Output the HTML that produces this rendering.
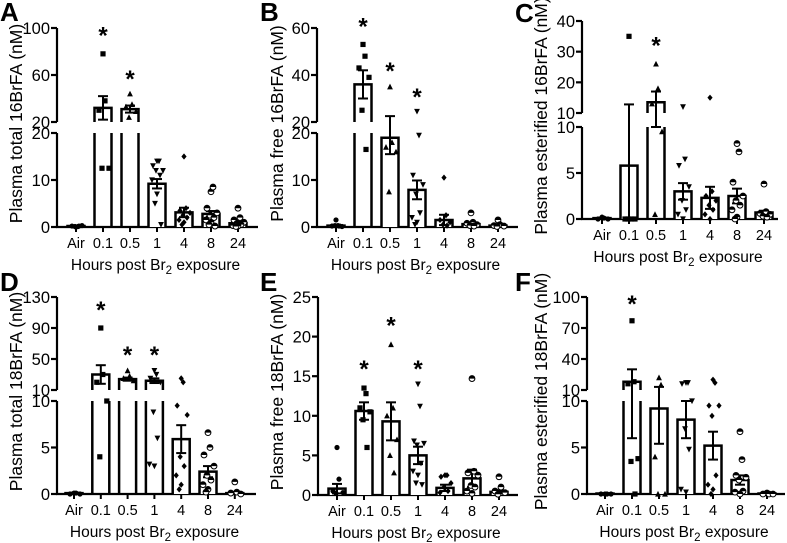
<!DOCTYPE html>
<html><head><meta charset="utf-8">
<style>
html,body{margin:0;padding:0;background:#fff;}
svg{display:block;font-family:"Liberation Sans",Arial,sans-serif;}
</style></head>
<body>
<svg id="fig" width="787" height="543" viewBox="0 0 787 543" xmlns="http://www.w3.org/2000/svg"></svg>
<script>
const categories = ["Air","0.1","0.5","1","4","8","24"];
const markers = ["circle","square","tri","dtri","diamond","half","half"];

// Panel A data
const meansA = [0.2, 32, 31, 9.2, 3.1, 2.8, 0.8];
const semA = [0.1, 10, 3, 1, 1, 0.6, 0.3];
const ptsA = [[0,0.1,0.2,0.3,0.1,0.2],[78,38,30,12.5,12.5],[44,35,33,29,24],[14,14,13,12,12,11,10,7,5,0.5],[15,4,3.5,3,2.5,2,1.5,1,0.5],[7.5,8.5,4,3,2.5,2,1.5,1,0.5,0.2],[4,2,1.5,1,0.8,0.5,0.3,0.2,0.1]];
const starsA = [null, 96, 59, null, null, null, null];
const lowTicksA = [0,10,20]; const upTicksA = [20,60,100];
// Panel B data
const meansB = [0.3, 36, 19, 7.9, 1.5, 0.6, 0.3];
const semB = [0.2, 6, 3.5, 2, 1.1, 0.3, 0.2];
const ptsB = [[1.5,0.3,0.2,0.1,0.3,0.2],[53,48,43,39,25,16.5],[35,18,17,16,7.5],[24.5,19.5,11,9,7,3,2,1,0.5],[10.5,2.5,1.5,1,0.5,0.3],[3,1,0.8,0.5,0.3,0.2],[1.5,0.5,0.3,0.2,0.1]];
const starsB = [null, 62, 43, 32, null, null, null];
const lowTicksB = [0,10,20]; const upTicksB = [20,40,60];
// Panel C data
const meansC = [0.1, 5.8, 13.5, 3, 2.3, 2.5, 0.7];
const semC = [0.05, 7, 3.5, 0.9, 1.2, 0.8, 0.2];
const ptsC = [[0.2,0.1,0,0],[35,0,0,0,0],[26,18,13,9.5,0.5],[12,6.5,5.8,3.5,2,1,0.5,0],[15,3,2.5,2,1.5,1,0.5,0],[8.2,7.3,4,2.5,2,1.5,1,0.2,0],[3.8,0.8,0.6,0.5,0.3,0.2]];
const starsC = [null, null, 33, null, null, null, null];
const lowTicksC = [0,5,10]; const upTicksC = [10,20,30,40];
// Panel D data
const meansD = [0.1, 30, 24, 22, 5.9, 2.4, 0.1];
const semD = [0.05, 12, 2, 3, 1.5, 0.6, 0.05];
const ptsD = [[0.1,0.1,0,0],[90,30,20,10,4],[35,28,25,22],[35,30,25,20,8.8,6,3.2,3],[25,20,9.5,8.5,4,3,2,1,0.5],[6.6,5,4.2,3,2,1.5,1,0.5,0.2],[1.3,0.2,0.1,0]];
const starsD = [null, 117, 59, 59, null, null, null];
const lowTicksD = [0,5,10]; const upTicksD = [10,50,90,130];
// Panel E data
const meansE = [0.8, 10.6, 9.3, 5, 0.9, 2.1, 0.4];
const semE = [0.6, 1.1, 2.4, 1.1, 0.4, 1.1, 0.2];
const ptsE = [[6,2,0.5,0.3,0.2],[13.5,12.8,11,10.5,9.5,6],[19,11,10,7,5,2.8],[14,11.2,6.8,6.5,6.3,4,3,2.5,1.5,1.3],[2.5,2.5,2.3,1.5,1,0.5,0.3],[14.7,3,2.8,2.5,1.2,1,0.5,0.2],[2.3,1,0.5,0.3,0.1]];
const starsE = [null, 16.3, 21.8, 16.3, null, null, null];
const lowTicksE = [0,5,10,15,20,25]; const upTicksE = [];
// Panel F data
const meansF = [0.05, 18, 9.2, 8, 5.2, 1.5, 0.05];
const semF = [0, 12, 3.8, 2, 1.5, 0.5, 0];
const ptsF = [[0,0,0,0],[77,18,16,3.8,3.5,0],[22,15,4,0,0],[17,17,16,10,7,4.8,0.5,0.2],[20,17,9.5,9.5,8.4,2,1,0.5,0],[6.7,3.7,2,1.8,1.5,0.3,0.2,0],[0.1,0,0,0]];
const starsF = [null, 96, null, null, null, null, null];
const lowTicksF = [0,5,10]; const upTicksF = [10,40,70,100];

const NS = "http://www.w3.org/2000/svg";
const svg = document.getElementById("fig");
function mk(tag, attrs, parent, text){
  const e = document.createElementNS(NS, tag);
  for (const k in attrs) e.setAttribute(k, attrs[k]);
  if (text !== undefined) e.textContent = text;
  (parent||svg).appendChild(e);
  return e;
}

const panels = [
 {id:"a",letter:"A",lx:0,ly:21,title:"Plasma total 16BrFA (nM)",tx:16,ax:57,c0:76,step:27,bw:17,base:227,lowMax:20,lowTop:133,upMin:20,upMax:100,upBot:122,upTop:28,means:meansA,sem:semA,pts:ptsA,stars:starsA,lt:lowTicksA,ut:upTicksA,xend:258},
 {id:"b",letter:"B",lx:260,ly:21,title:"Plasma free 16BrFA (nM)",tx:277,ax:317,c0:336,step:27,bw:17,base:227,lowMax:20,lowTop:133,upMin:20,upMax:60,upBot:122,upTop:28,means:meansB,sem:semB,pts:ptsB,stars:starsB,lt:lowTicksB,ut:upTicksB,xend:518},
 {id:"c",letter:"C",lx:515,ly:22,title:"Plasma esterified 16BrFA (nM)",tx:541,ax:582,c0:602,step:27,bw:17,base:219,lowMax:10,lowTop:127,upMin:10,upMax:40,upBot:113,upTop:21,means:meansC,sem:semC,pts:ptsC,stars:starsC,lt:lowTicksC,ut:upTicksC,xend:778},
 {id:"d",letter:"D",lx:0,ly:291,title:"Plasma total 18BrFA (nM)",tx:16,ax:57,c0:74,step:26.8,bw:17,base:494,lowMax:10,lowTop:401,upMin:10,upMax:130,upBot:390,upTop:297,means:meansD,sem:semD,pts:ptsD,stars:starsD,lt:lowTicksD,ut:upTicksD,xend:256},
 {id:"e",letter:"E",lx:260,ly:291,title:"Plasma free 18BrFA (nM)",tx:277,ax:318,c0:337,step:27,bw:17,base:495,lowMax:25,lowTop:297,upMin:null,means:meansE,sem:semE,pts:ptsE,stars:starsE,lt:lowTicksE,ut:upTicksE,xend:518},
 {id:"f",letter:"F",lx:515,ly:291,title:"Plasma esterified 18BrFA (nM)",tx:541,ax:587,c0:605,step:27,bw:17,base:494,lowMax:10,lowTop:401,upMin:10,upMax:100,upBot:390,upTop:297,means:meansF,sem:semF,pts:ptsF,stars:starsF,lt:lowTicksF,ut:upTicksF,xend:785}
];

function drawMarker(g, type, x, y){
  const s = 2.6;
  let e;
  if (type==="circle") e = mk("circle",{cx:x,cy:y,r:s},g);
  else if (type==="square") e = mk("rect",{x:x-s,y:y-s,width:2*s,height:2*s},g);
  else if (type==="tri") e = mk("polygon",{points:`${x},${y-s-0.5} ${x-s-0.3},${y+s} ${x+s+0.3},${y+s}`},g);
  else if (type==="dtri") e = mk("polygon",{points:`${x},${y+s+0.5} ${x-s-0.3},${y-s} ${x+s+0.3},${y-s}`},g);
  else if (type==="diamond") e = mk("polygon",{points:`${x},${y-s-0.5} ${x+s},${y} ${x},${y+s+0.5} ${x-s},${y}`},g);
  else { e = mk("circle",{cx:x,cy:y,r:s+0.3,fill:"#fff",stroke:"#000","stroke-width":1},g);
         mk("path",{d:`M${x-s-0.3},${y} A${s+0.3},${s+0.3} 0 0 1 ${x+s+0.3},${y} Z`,fill:"#000"},g); return; }
  e.setAttribute("fill","#000");
}

panels.forEach(P => {
  const g = mk("g",{});
  
  
  const y = v => {
    if (P.upMin===null || v <= P.lowMax) return P.base - (v/P.lowMax)*(P.base-P.lowTop);
    return P.upBot - (v-P.upMin)/(P.upMax-P.upMin)*(P.upBot-P.upTop);
  };
  const x = i => P.c0 + i*P.step;
  const L = mk("text",{x:P.lx,y:P.ly,"font-size":26,"font-weight":"bold"},g,P.letter);
  
  
  const cy = (P.base + (P.upMin===null?P.lowTop:P.upTop))/2 - 4;
  const T = mk("text",{x:P.tx,y:cy,"font-size":17.5,"text-anchor":"middle",transform:`rotate(-90 ${P.tx} ${cy})`,"dominant-baseline":"central"},g,P.title);
  
  
  const ya = mk("g",{stroke:"#000","stroke-width":2.2},g);
  
  
  mk("line",{x1:P.ax,y1:P.base+1,x2:P.ax,y2:P.lowTop},ya);
  if (P.upMin!==null) mk("line",{x1:P.ax,y1:P.upBot,x2:P.ax,y2:P.upTop},ya);
  const tickLab = (v,ty) => {
    mk("line",{x1:P.ax-6,y1:ty,x2:P.ax,y2:ty},ya);
    const t = mk("text",{x:P.ax-7,y:ty+6,"font-size":16.5,"text-anchor":"end",stroke:"none",fill:"#000"},g,String(v));
    
    
  };
  P.lt.forEach(v => tickLab(v, P.base - (v/P.lowMax)*(P.base-P.lowTop)));
  P.ut.forEach(v => tickLab(v, P.upBot - (v-P.upMin)/(P.upMax-P.upMin)*(P.upBot-P.upTop)));
  const xa = mk("line",{x1:P.ax-1,y1:P.base,x2:P.xend,y2:P.base,stroke:"#000","stroke-width":2.2},g);
  
  
  categories.forEach((c,i) => {
    const tk = mk("line",{x1:x(i),y1:P.base,x2:x(i),y2:P.base+5,stroke:"#000","stroke-width":2},g);
    
    
    const t = mk("text",{x:x(i),y:P.base+21,"font-size":14.5,"text-anchor":"middle"},g,c);
    
    
  });
  const xt = mk("text",{x:(P.ax+P.xend)/2-2,y:P.base+43,"font-size":15.5,"text-anchor":"middle"},g);
  
  
  xt.appendChild(document.createTextNode("Hours post Br"));
  mk("tspan",{"font-size":11.5,dy:4},xt,"2");
  mk("tspan",{dy:-4},xt," exposure");
  P.means.forEach((m,i) => {
    const bg = mk("g",{fill:"none",stroke:"#000","stroke-width":2.5},g);
    
    
    const xl = x(i)-P.bw/2, xr = x(i)+P.bw/2, ym = y(m);
    if (P.upMin===null || m <= P.lowMax) {
      mk("path",{d:`M${xl},${P.base} V${ym} H${xr} V${P.base}`,fill:"#fff"},bg);
    } else {
      mk("path",{d:`M${xl},${P.base} V${P.lowTop} M${xr},${P.base} V${P.lowTop}`},bg);
      mk("path",{d:`M${xl},${P.upBot} V${ym} H${xr} V${P.upBot}`},bg);
    }
    const s = P.sem[i];
    if (s > 0) {
      const eg = mk("g",{stroke:"#000","stroke-width":2},g);
      
      
      const yt = y(m+s), yb = y(Math.max(0,m-s));
      mk("line",{x1:x(i),y1:yt,x2:x(i),y2:yb},eg);
      mk("line",{x1:x(i)-5,y1:yt,x2:x(i)+5,y2:yt},eg);
      mk("line",{x1:x(i)-5,y1:yb,x2:x(i)+5,y2:yb},eg);
    }
    const pg = mk("g",{},g);
    
    
    const n = P.pts[i].length;
    P.pts[i].forEach((v,k) => {
      const off = n>1 ? (k%2===0?-1:1)*(((k*37)%7)/7)*(P.bw/2-1.5) : 0;
      drawMarker(pg, markers[i], x(i)+off, y(v));
    });
    if (P.stars[i] !== null) {
      const st = mk("text",{x:x(i),y:y(P.stars[i])+11,"font-size":24,"font-weight":"bold","text-anchor":"middle"},g,"*");
      
      
    }
  });
});
</script>
</body></html>
